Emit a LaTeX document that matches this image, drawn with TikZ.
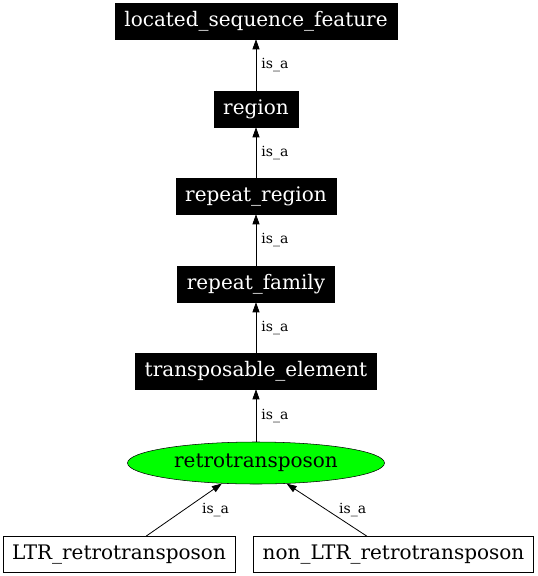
\documentclass[tikz,border=0pt]{standalone}
\usepackage{fontspec}
\setmainfont{DejaVu Serif}
\usetikzlibrary{arrows.meta,shapes.geometric}

\begin{document}
\begin{tikzpicture}[x=0.75pt, y=-0.75pt,
    termine/.style={draw=black, fill=black, text=white, rectangle, inner xsep=7pt, inner ysep=0pt, minimum height=27pt, font=\fontsize{15}{17}\selectfont},
    foglia/.style={draw=black, fill=white, rectangle, inner xsep=7pt, inner ysep=0pt, minimum height=27pt, font=\fontsize{15}{17}\selectfont},
    centro/.style={draw=black, fill=green, ellipse, inner sep=0pt, minimum width=192.75pt, minimum height=31.5pt, font=\fontsize{15}{17}\selectfont},
    isa/.style={-{Triangle[length=7.5pt,width=5.25pt]}, line width=0.6pt},
    etichetta/.style={font=\fontsize{10.5}{12}\selectfont, inner sep=1pt, anchor=west}]
        \useasboundingbox (0,0) rectangle (537,576);

        % Catena dei termini
        \node[termine] (lsf) at (256, 21) {located\_sequence\_feature};
        \node[termine] (region) at (256, 109) {region};
        \node[termine] (rregion) at (256, 196) {repeat\_region};
        \node[termine] (rfamily) at (256, 284) {repeat\_family};
        \node[termine] (te) at (256, 371) {transposable\_element};

        % Termine centrale
        \node[centro] (retro) at (256, 463) {retrotransposon};

        % Figli
        \node[foglia] (ltr) at (119, 554.5) {LTR\_retrotransposon};
        \node[foglia] (nonltr) at (393.5, 554.5) {non\_LTR\_retrotransposon};

        % Archi is_a
        \draw[isa] (region) -- node[etichetta, xshift=2.75pt] (l1) {is\_a} (lsf);
        \draw[isa] (rregion) -- node[etichetta, xshift=2.75pt] (l2) {is\_a} (region);
        \draw[isa] (rfamily) -- node[etichetta, xshift=2.75pt] (l3) {is\_a} (rregion);
        \draw[isa] (te) -- node[etichetta, xshift=2.75pt] (l4) {is\_a} (rfamily);
        \draw[isa] (retro) -- node[etichetta, xshift=2.75pt] (l5) {is\_a} (te);

        \draw[isa] ([xshift=20.25pt]ltr.north) -- node[etichetta, xshift=12.3pt] (l6) {is\_a} (retro.211);
        \draw[isa] ([xshift=-19.9pt]nonltr.north) -- node[etichetta, xshift=8pt] (l7) {is\_a} (retro.326);

    \end{tikzpicture}
\end{document}
